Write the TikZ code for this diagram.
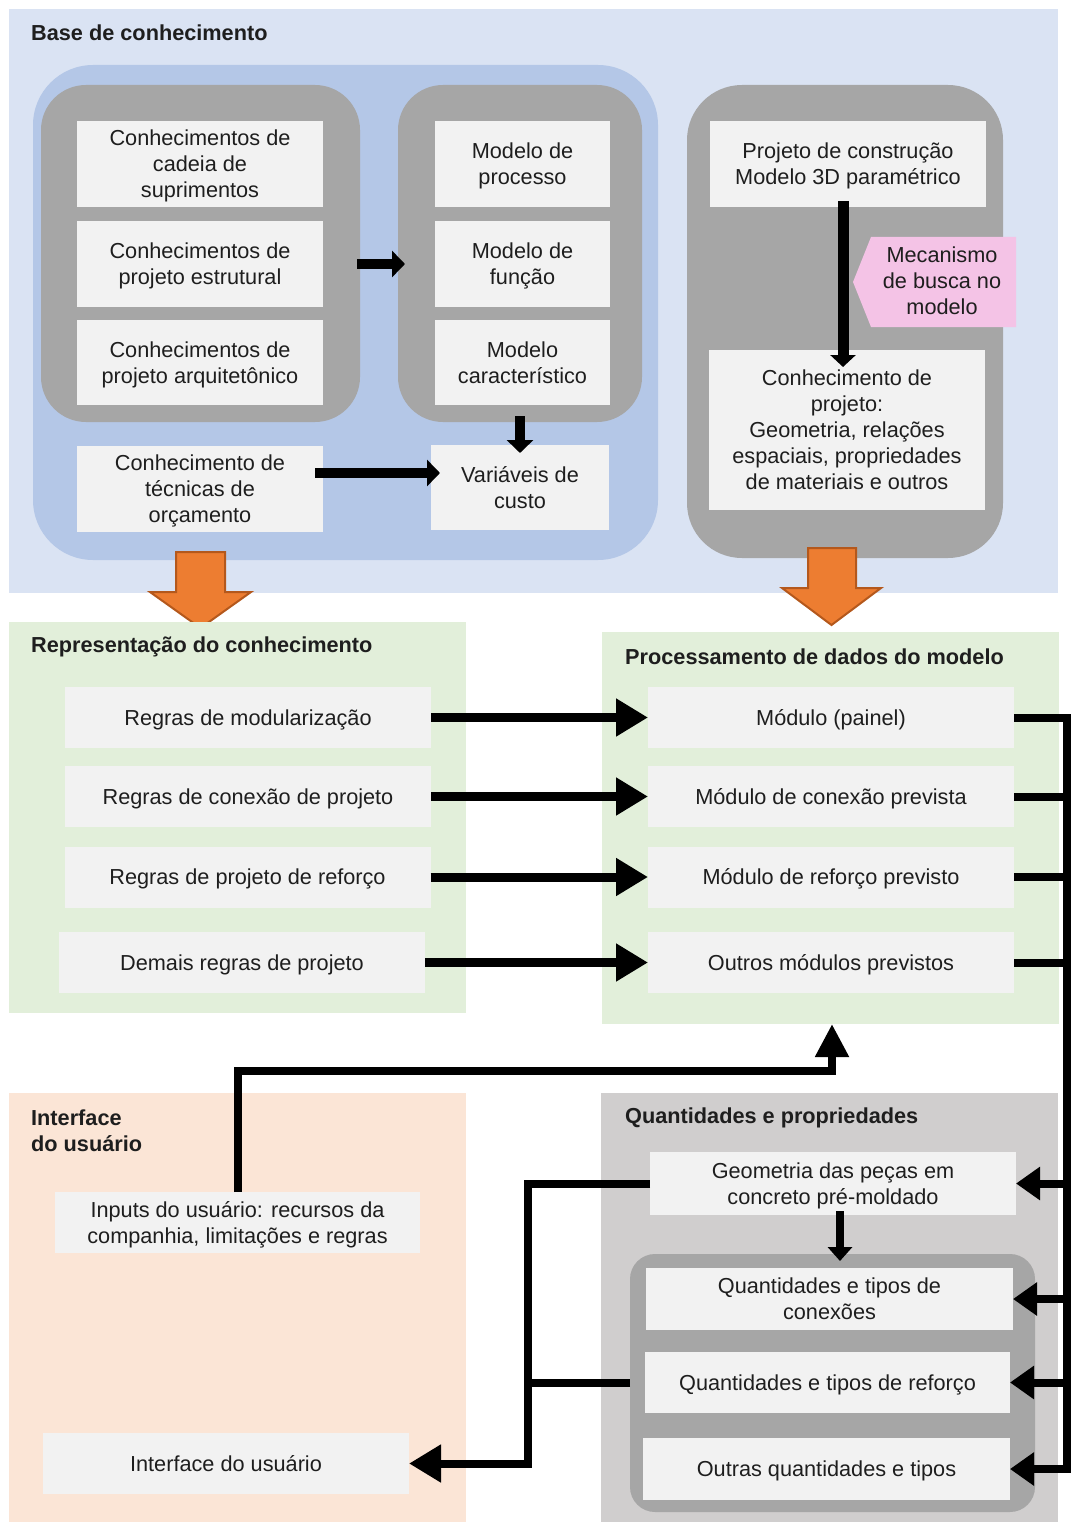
\documentclass[tikz,border=0pt]{standalone}
\usepackage{fontspec}
\setmainfont{Liberation Sans}
\usetikzlibrary{arrows.meta,calc}
\definecolor{bgblue}{HTML}{DAE3F3}
\definecolor{midblue}{HTML}{B4C7E7}
\definecolor{contgray}{HTML}{A6A6A6}
\definecolor{boxgray}{HTML}{F2F2F2}
\definecolor{pinkc}{HTML}{F4C3E6}
\definecolor{greenbg}{HTML}{E2EFDA}
\definecolor{peach}{HTML}{FBE5D6}
\definecolor{qgray}{HTML}{D0CECE}
\definecolor{orangef}{HTML}{ED7D31}
\definecolor{oranged}{HTML}{B4581C}
\definecolor{txt}{HTML}{1E1E1E}
\newcommand{\fsz}{\fontsize{21.7pt}{26pt}\selectfont}
\newcommand{\tb}[1]{\begin{tabular}{@{}c@{}}\rule{0pt}{22.8pt}#1\end{tabular}}
\begin{document}
\begin{tikzpicture}[x=1pt,y=-1pt,
  panel/.style={draw=none,inner sep=0pt,outer sep=0pt},
  cont/.style={panel,fill=contgray},
  bx/.style={panel,fill=boxgray,font=\fsz,text=txt},
  ttl/.style={anchor=west,align=left,font=\fsz\bfseries,text=txt,inner sep=0pt},
  ln/.style={draw=black,line width=8pt,line join=miter},
  arrT/.style={ln,line width=10pt,-{Triangle[length=13pt,width=26pt]}},
  arrL/.style={ln,line width=9pt,-{Triangle[length=32pt,width=36pt]}},
  arrS/.style={ln,-{Triangle[length=24pt,width=32pt]}},
  orarr/.style={fill=orangef,draw=oranged,line width=2pt,line join=miter}
]
\useasboundingbox (0,0) rectangle (1073,1522);

% ---------- Base de conhecimento ----------
\node[panel,fill=bgblue,minimum width=1049pt,minimum height=584pt] (pb) at (533.5,301) {};
\node[panel,fill=midblue,rounded corners=60pt,minimum width=625pt,minimum height=495pt] (ib) at (345.5,312.5) {};
\node[cont,rounded corners=45pt,minimum width=319pt,minimum height=337pt] (gL) at (200.5,253.5) {};
\node[cont,rounded corners=45pt,minimum width=244pt,minimum height=337pt] (gM) at (520,253.5) {};
\node[cont,rounded corners=55pt,minimum width=316pt,minimum height=473pt] (gR) at (845,321.5) {};
\node[ttl] (t1) at (31,33) {Base de conhecimento};

\node[bx,minimum width=246pt,minimum height=86pt] (k1) at (200,164) {\tb{Conhecimentos de\\cadeia de\\suprimentos}};
\node[bx,minimum width=246pt,minimum height=86pt] (k2) at (200,264) {\tb{Conhecimentos de\\projeto estrutural}};
\node[bx,minimum width=246pt,minimum height=85pt] (k3) at (200,362.5) {\tb{Conhecimentos de\\projeto arquitetônico}};
\node[bx,minimum width=175pt,minimum height=86pt] (m1) at (522.5,164) {\tb{Modelo de\\processo}};
\node[bx,minimum width=175pt,minimum height=86pt] (m2) at (522.5,264) {\tb{Modelo de\\função}};
\node[bx,minimum width=175pt,minimum height=85pt] (m3) at (522.5,362.5) {\tb{Modelo\\característico}};
\node[bx,minimum width=246pt,minimum height=86pt] (k4) at (200,489) {\tb{Conhecimento de\\técnicas de\\orçamento}};
\node[bx,minimum width=178pt,minimum height=85pt] (cv) at (520,487.5) {\tb{Variáveis de\\custo}};
\node[bx,minimum width=276pt,minimum height=86pt] (p1) at (848,164) {\tb{Projeto de construção\\Modelo 3D paramétrico}};
\node[bx,minimum width=276pt,minimum height=160pt] (p2) at (847,430) {\tb{Conhecimento de\\projeto:\\Geometria, relações\\espaciais, propriedades\\de materiais e outros}};

\draw[arrT] ($(k2.east -| gL.east)+(-3,0)$) -- ($(k2.east -| gM.west)+(7,0)$);
\draw[arrT] ($(gM.south)+(0,-6)$) -- ($(cv.north)+(0,8)$);
\draw[arrT] ($(k4.east)+(-8,-16)$) -- ($(cv.west)+(9,-14.5)$);
\draw[ln,line width=11pt,-{Triangle[length=12pt,width=25pt]}] ($(p1.south)+(-5,-6)$) -- ($(p2.north)+(-4,17)$);

\fill[pinkc] (871,237) -- (1016,237) -- (1016,327) -- (871,327) -- (853,282) -- cycle;
\node[align=center,font=\fsz,text=txt,inner sep=0pt] (mec) at (942,281) {Mecanismo\\de busca no\\modelo};

% orange block arrows
\draw[orarr] (176,552) -- (225,552) -- (225,592) -- (251,592) -- (200.5,628) -- (150,592) -- (176,592) -- cycle;
\draw[orarr] (808,548) -- (856,548) -- (856,588) -- (881,588) -- (831.5,625) -- (782,588) -- (808,588) -- cycle;

% ---------- Representacao / Processamento ----------
\node[panel,fill=greenbg,minimum width=457pt,minimum height=391pt] (pl) at (237.5,817.5) {};
\node[panel,fill=greenbg,minimum width=457pt,minimum height=392pt] (pn) at (830.5,828) {};
\node[ttl] (t2) at (31,647) {Representação do conhecimento};
\node[ttl] (t3) at (625,657) {Processamento de dados do modelo};

\node[bx,minimum width=366pt,minimum height=61pt] (r1) at (248,717.5) {\tb{Regras de modularização}};
\node[bx,minimum width=366pt,minimum height=61pt] (r2) at (248,796.5) {\tb{Regras de conexão de projeto}};
\node[bx,minimum width=366pt,minimum height=61pt] (r3) at (247.5,877) {\tb{Regras de projeto de reforço}};
\node[bx,minimum width=366pt,minimum height=61pt] (r4) at (242,962.5) {\tb{Demais regras de projeto}};
\node[bx,minimum width=366pt,minimum height=61pt] (d1) at (831,717.5) {\tb{Módulo (painel)}};
\node[bx,minimum width=366pt,minimum height=61pt] (d2) at (831,796.5) {\tb{Módulo de conexão prevista}};
\node[bx,minimum width=366pt,minimum height=61pt] (d3) at (831,877) {\tb{Módulo de reforço previsto}};
\node[bx,minimum width=366pt,minimum height=61pt] (d4) at (831,962.5) {\tb{Outros módulos previstos}};

\draw[arrL] (r1.east) -- (d1.west);
\draw[arrL] (r2.east) -- (d2.west);
\draw[arrL] (r3.east) -- (d3.west);
\draw[arrL] (r4.east) -- (d4.west);

% ---------- Interface / Quantidades ----------
\node[panel,fill=peach,minimum width=457pt,minimum height=429pt] (pu) at (237.5,1307.5) {};
\node[panel,fill=qgray,minimum width=457pt,minimum height=429pt] (pq) at (829.5,1307.5) {};
\node[ttl] (t4) at (31,1131) {Interface\\do usuário};
\node[ttl] (t5) at (625,1118) {Quantidades e propriedades};

\node[bx,minimum width=365pt,minimum height=61pt] (in1) at (237.5,1222.5) {\tb{Inputs do usuário: recursos da\\companhia, limitações e regras}};
\node[bx,minimum width=366pt,minimum height=61pt] (ui) at (226,1463.5) {\tb{Interface do usuário}};
\node[bx,minimum width=366pt,minimum height=63pt] (q0) at (833,1183.5) {\tb{Geometria das peças em\\concreto pré-moldado}};
\node[cont,rounded corners=25pt,minimum width=405pt,minimum height=258pt] (qc) at (832.5,1383) {};
\node[bx,minimum width=367pt,minimum height=62pt] (q1) at (829.5,1299) {\tb{Quantidades e tipos de\\conexões}};
\node[bx,minimum width=365pt,minimum height=61pt] (q2) at (827.5,1382.5) {\tb{Quantidades e tipos de reforço}};
\node[bx,minimum width=367pt,minimum height=62pt] (q3) at (826.5,1469) {\tb{Outras quantidades e tipos}};

\draw[ln,line width=8pt,-{Triangle[length=14pt,width=24pt]}] ($(q0.south)+(7,-4)$) -- ($(qc.north)+(7.5,7)$);

% right bus
\coordinate (bx) at (1067,0);
\draw[arrS] (d1.east) -| (q3.east -| bx) -- (q3.east);
\draw[ln] (d2.east) -- (d2.east -| bx);
\draw[ln] (d3.east) -- (d3.east -| bx);
\draw[ln] (d4.east) -- (d4.east -| bx);
\draw[arrS] (q0.east -| bx) -- (q0.east);
\draw[arrS] (q1.east -| bx) -- (q1.east);
\draw[arrS] (q2.east -| bx) -- (q2.east);

% left connector
\coordinate (lx) at (528,0);
\draw[arrL,line width=8pt] (q0.west) -| (ui.east -| lx) -- (ui.east);
\draw[ln] (qc.west) -- (qc.west -| lx);

% user inputs up
\draw[ln,-{Triangle[length=33pt,width=32pt]}] (in1.north) |- ($(pn.south)+(1.5,47)$) -- ($(pn.south)+(1.5,0)$);
\end{tikzpicture}
\end{document}
